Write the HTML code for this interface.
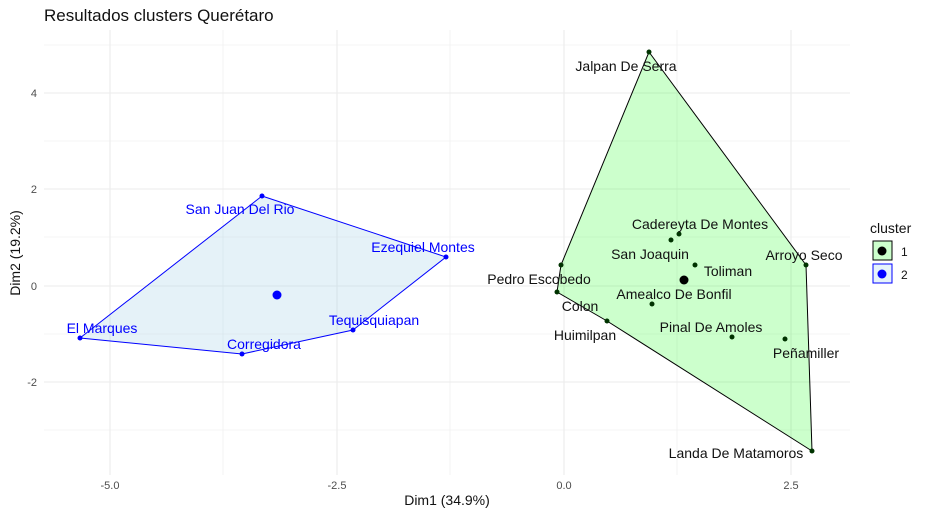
<!DOCTYPE html>
<html><head><style>body{margin:0;background:#fff}</style></head><body>
<svg width="929" height="516" xmlns="http://www.w3.org/2000/svg" font-family="Liberation Sans, sans-serif">
<rect width="929" height="516" fill="#fff"/>
<g stroke="#ebebeb" stroke-width="0.6">
<line x1="44" x2="850" y1="45" y2="45"/><line x1="44" x2="850" y1="141" y2="141"/><line x1="44" x2="850" y1="237" y2="237"/><line x1="44" x2="850" y1="334" y2="334"/><line x1="44" x2="850" y1="430" y2="430"/>
<line x1="223" x2="223" y1="30" y2="475"/><line x1="450" x2="450" y1="30" y2="475"/><line x1="677" x2="677" y1="30" y2="475"/>
</g>
<g stroke="#ebebeb" stroke-width="1.1">
<line x1="44" x2="850" y1="93" y2="93"/><line x1="44" x2="850" y1="189" y2="189"/><line x1="44" x2="850" y1="286" y2="286"/><line x1="44" x2="850" y1="382" y2="382"/>
<line x1="110" x2="110" y1="30" y2="475"/><line x1="337" x2="337" y1="30" y2="475"/><line x1="564" x2="564" y1="30" y2="475"/><line x1="791" x2="791" y1="30" y2="475"/>
</g>
<polygon points="649,52 806,265 812,451 607,321 557,292 561,265" fill="#00ff00" fill-opacity="0.2" stroke="#000" stroke-width="1"/>
<polygon points="262,196 446,257 353,330 242,354 80,338" fill="#aad3e8" fill-opacity="0.3" stroke="#0000ff" stroke-width="1"/>
<g fill="#003300">
<circle cx="649" cy="52" r="2.5"/><circle cx="806" cy="265" r="2.5"/><circle cx="812" cy="451" r="2.5"/><circle cx="607" cy="321" r="2.5"/><circle cx="557" cy="292" r="2.5"/><circle cx="561" cy="265" r="2.5"/>
<circle cx="679" cy="234" r="2.5"/><circle cx="671" cy="240" r="2.5"/><circle cx="695" cy="265" r="2.5"/><circle cx="652" cy="304" r="2.5"/><circle cx="732" cy="337" r="2.5"/><circle cx="785" cy="339" r="2.5"/>
</g>
<circle cx="684" cy="280" r="4.5" fill="#000"/>
<g fill="#0000ff">
<circle cx="262" cy="196" r="2.5"/><circle cx="446" cy="257" r="2.5"/><circle cx="353" cy="330" r="2.5"/><circle cx="242" cy="354" r="2.5"/><circle cx="80" cy="338" r="2.5"/>
<circle cx="277" cy="295" r="4.5"/>
</g>
<g font-size="14" fill="#111" text-anchor="middle">
<text x="626" y="71">Jalpan De Serra</text>
<text x="700" y="229">Cadereyta De Montes</text>
<text x="650" y="259">San Joaquin</text>
<text x="728" y="276">Toliman</text>
<text x="804" y="260">Arroyo Seco</text>
<text x="539" y="284">Pedro Escobedo</text>
<text x="674" y="299">Amealco De Bonfil</text>
<text x="580" y="311">Colon</text>
<text x="585" y="340">Huimilpan</text>
<text x="711" y="332">Pinal De Amoles</text>
<text x="806" y="358">Peñamiller</text>
<text x="736" y="458">Landa De Matamoros</text>
</g>
<g font-size="14" fill="#0000ff" text-anchor="middle">
<text x="240" y="214">San Juan Del Rio</text>
<text x="423" y="252">Ezequiel Montes</text>
<text x="374" y="325">Tequisquiapan</text>
<text x="264" y="349">Corregidora</text>
<text x="102" y="333">El Marques</text>
</g>
<g font-size="11" fill="#4d4d4d">
<g text-anchor="end"><text x="37" y="97">4</text><text x="37" y="193">2</text><text x="37" y="290">0</text><text x="37" y="386">-2</text></g>
<g text-anchor="middle"><text x="110" y="489">-5.0</text><text x="337" y="489">-2.5</text><text x="564" y="489">0.0</text><text x="791" y="489">2.5</text></g>
</g>
<text x="447" y="505" font-size="14" fill="#111" text-anchor="middle">Dim1 (34.9%)</text>
<text transform="translate(20,253) rotate(-90)" font-size="14" fill="#111" text-anchor="middle">Dim2 (19.2%)</text>
<text x="44" y="21" font-size="17" fill="#111">Resultados clusters Querétaro</text>
<text x="870" y="233" font-size="14" fill="#111">cluster</text>
<rect x="873" y="241" width="19" height="19" fill="#ccffcc" stroke="#000"/>
<circle cx="882" cy="251" r="4.5" fill="#000"/>
<rect x="873" y="264" width="19" height="19" fill="#e6f3fa" stroke="#0000ff"/>
<circle cx="882" cy="274" r="4.5" fill="#0000ff"/>
<text x="901" y="256" font-size="12" fill="#111">1</text>
<text x="901" y="279" font-size="12" fill="#111">2</text>
</svg>
</body></html>
